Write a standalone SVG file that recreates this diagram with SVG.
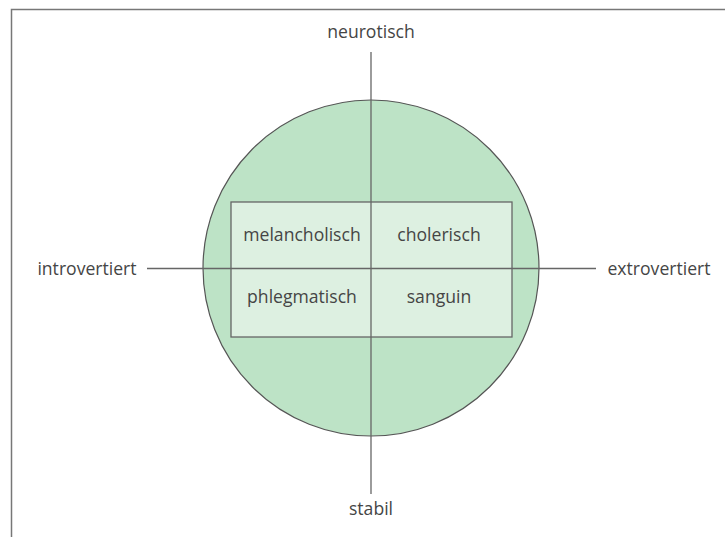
<svg xmlns="http://www.w3.org/2000/svg" width="725" height="537" viewBox="0 0 725 537">
<style>
.t{font-family:"Open Sans","Noto Sans","Liberation Sans",sans-serif;font-size:17.6px;fill:#454545;text-anchor:middle}
.ax{stroke:#666;stroke-width:1.3;fill:none}
</style>
<rect width="725" height="537" fill="#fff"/>
<path d="M11.5 537 V9.5 H725" fill="none" stroke="#777" stroke-width="1.5"/>
<g id="circle"><circle cx="371" cy="268" r="168" fill="#bde3c6" stroke="#555" stroke-width="1.2"/></g>
<g id="box"><rect x="231" y="202" width="281" height="135" fill="#ddf0e1" stroke="#666" stroke-width="1.3"/></g>
<g id="connectors">
<line class="ax" x1="371" y1="52" x2="371" y2="494"/>
<line class="ax" x1="147" y1="268.5" x2="596" y2="268.5"/>
</g>
<g id="neurotisch"><text class="t" x="371" y="38">neurotisch</text></g>
<g id="stabil"><text class="t" x="371" y="515">stabil</text></g>
<g id="introvertiert"><text class="t" x="87" y="275">introvertiert</text></g>
<g id="extrovertiert"><text class="t" x="659" y="275">extrovertiert</text></g>
<g id="melancholisch"><text class="t" x="302" y="241">melancholisch</text></g>
<g id="cholerisch"><text class="t" x="439" y="241">cholerisch</text></g>
<g id="phlegmatisch"><text class="t" x="302" y="303">phlegmatisch</text></g>
<g id="sanguin"><text class="t" x="439" y="303">sanguin</text></g>
</svg>
